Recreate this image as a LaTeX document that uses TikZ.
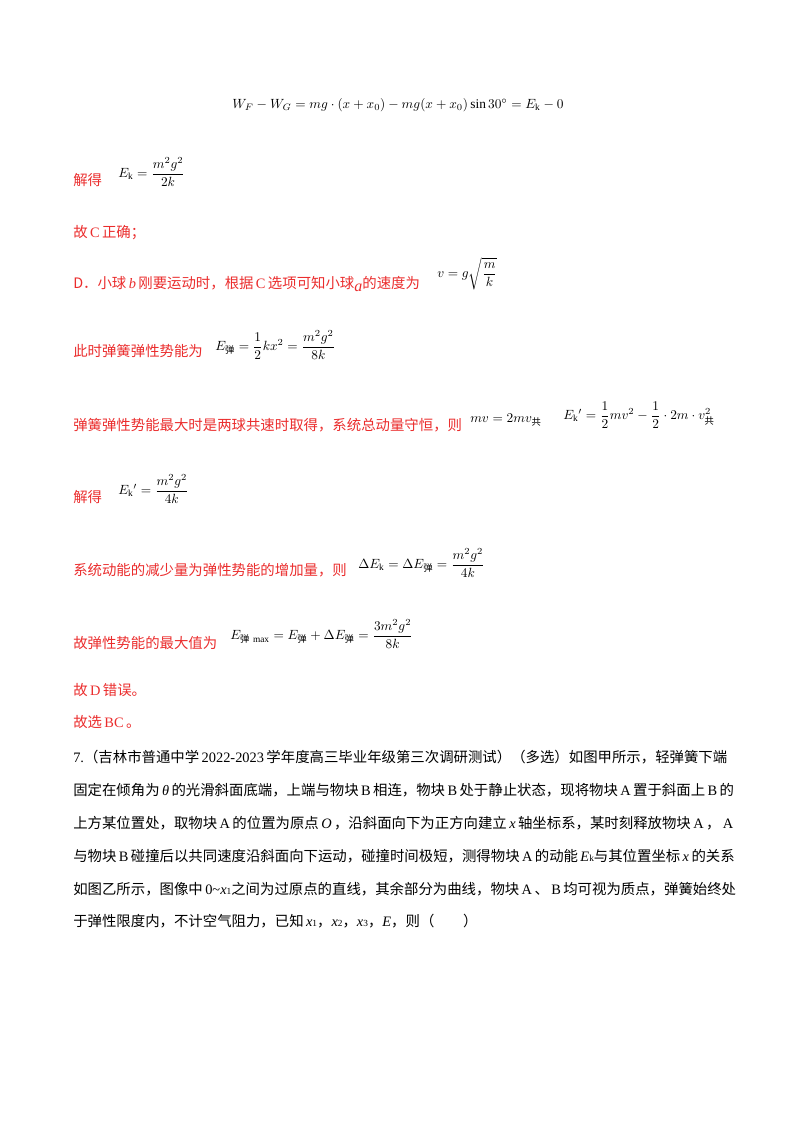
\documentclass[tikz,border=0pt]{standalone}
\usepackage{amsmath}
\usepackage{fontspec}
\setmainfont{Liberation Serif}
\newfontfamily\cjk{Noto Sans CJK SC}
\definecolor{ansred}{RGB}{235,45,45}
\newcommand{\zh}[1]{\text{\cjk\scriptsize #1}}
\newcommand{\lt}[1]{\,{\rmfamily #1}\,}
\tikzset{
  red/.style={anchor=west,inner sep=0pt,text=ansred,font=\cjk\fontsize{10.8}{12}\selectfont},
  blk/.style={anchor=west,inner sep=0pt,text=black,font=\cjk\fontsize{10.8}{12}\selectfont},
  eq/.style={anchor=west,inner sep=0pt,font=\fontsize{10}{12}\selectfont}
}
\begin{document}
\begin{tikzpicture}[x=0.75pt,y=-0.75pt]
\useasboundingbox[fill=white] (0,0) rectangle (800,1132);
\node[eq] (e0) at (232,105) {$W_F-W_G=mg\cdot(x+x_0)-mg(x+x_0)\sin 30^\circ=E_{\mathrm k}-0$};
\node[red] (t1) at (73,180) {解得};
\node[eq] (e1) at (118,172) {$E_{\mathrm k}=\dfrac{m^2g^2}{2k}$};
\node[red] (t2) at (73,233) {故\lt{C}正确；};
\node[red] (t3) at (73,284) {D．小球\lt{\itshape b}刚要运动时，根据\lt{C}选项可知小球\raisebox{-0.5ex}{\rmfamily\itshape\large a}的速度为};
\node[eq] (e3) at (437,274) {$v=g\sqrt{\dfrac{m}{k}}$};
\node[red] (t4) at (73,351) {此时弹簧弹性势能为};
\node[eq] (e4) at (215,345) {$E_{\zh{弹}}=\dfrac12kx^2=\dfrac{m^2g^2}{8k}$};
\node[red] (t5) at (73,425) {弹簧弹性势能最大时是两球共速时取得，系统总动量守恒，则};
\node[eq] (e5a) at (470,420) {$mv=2mv_{\zh{共}}$};
\node[eq] (e5b) at (563,415) {$E_{\mathrm k}{}'=\dfrac12mv^2-\dfrac12\cdot2m\cdot v_{\zh{共}}^2$};
\node[red] (t6) at (73,497) {解得};
\node[eq] (e6) at (118,489) {$E_{\mathrm k}{}'=\dfrac{m^2g^2}{4k}$};
\node[red] (t7) at (73,570) {系统动能的减少量为弹性势能的增加量，则};
\node[eq] (e7) at (358,563) {$\Delta E_{\mathrm k}=\Delta E_{\zh{弹}}=\dfrac{m^2g^2}{4k}$};
\node[red] (t8) at (73,643) {故弹性势能的最大值为};
\node[eq] (e8) at (230,634) {$E_{\zh{弹}\,\max}=E_{\zh{弹}}+\Delta E_{\zh{弹}}=\dfrac{3m^2g^2}{8k}$};
\node[red] (t9) at (73,690) {故\lt{D}错误。};
\node[red] (t10) at (73,722) {故选\lt{BC}。};
\node[blk] (p1) at (73,757) {{\rmfamily 7.}（吉林市普通中学\lt{2022-2023}学年度高三毕业年级第三次调研测试）（多选）如图甲所示，轻弹簧下端};
\node[blk] (p2) at (73,790) {固定在倾角为\lt{\itshape θ}的光滑斜面底端，上端与物块\lt{B}相连，物块\lt{B}处于静止状态，现将物块\lt{A}置于斜面上\lt{B}的};
\node[blk] (p3) at (73,823) {上方某位置处，取物块\lt{A}的位置为原点\lt{\itshape O}，沿斜面向下为正方向建立\lt{\itshape x}轴坐标系，某时刻释放物块\lt{A}，\lt{A}};
\node[blk] (p4) at (73,856) {与物块\lt{B}碰撞后以共同速度沿斜面向下运动，碰撞时间极短，测得物块\lt{A}的动能\,{\rmfamily\itshape E}{\rmfamily\scriptsize k}与其位置坐标\lt{\itshape x}的关系};
\node[blk] (p5) at (73,889) {如图乙所示，图像中\,{\rmfamily 0\textasciitilde}{\rmfamily\itshape x}{\rmfamily\scriptsize 1}之间为过原点的直线，其余部分为曲线，物块\lt{A}、\lt{B}均可视为质点，弹簧始终处};
\node[blk] (p6) at (73,921) {于弹性限度内，不计空气阻力，已知\,{\rmfamily\itshape x}{\rmfamily\scriptsize 1}，{\rmfamily\itshape x}{\rmfamily\scriptsize 2}，{\rmfamily\itshape x}{\rmfamily\scriptsize 3}，{\rmfamily\itshape E}，则（\qquad）};
\end{tikzpicture}
\end{document}
